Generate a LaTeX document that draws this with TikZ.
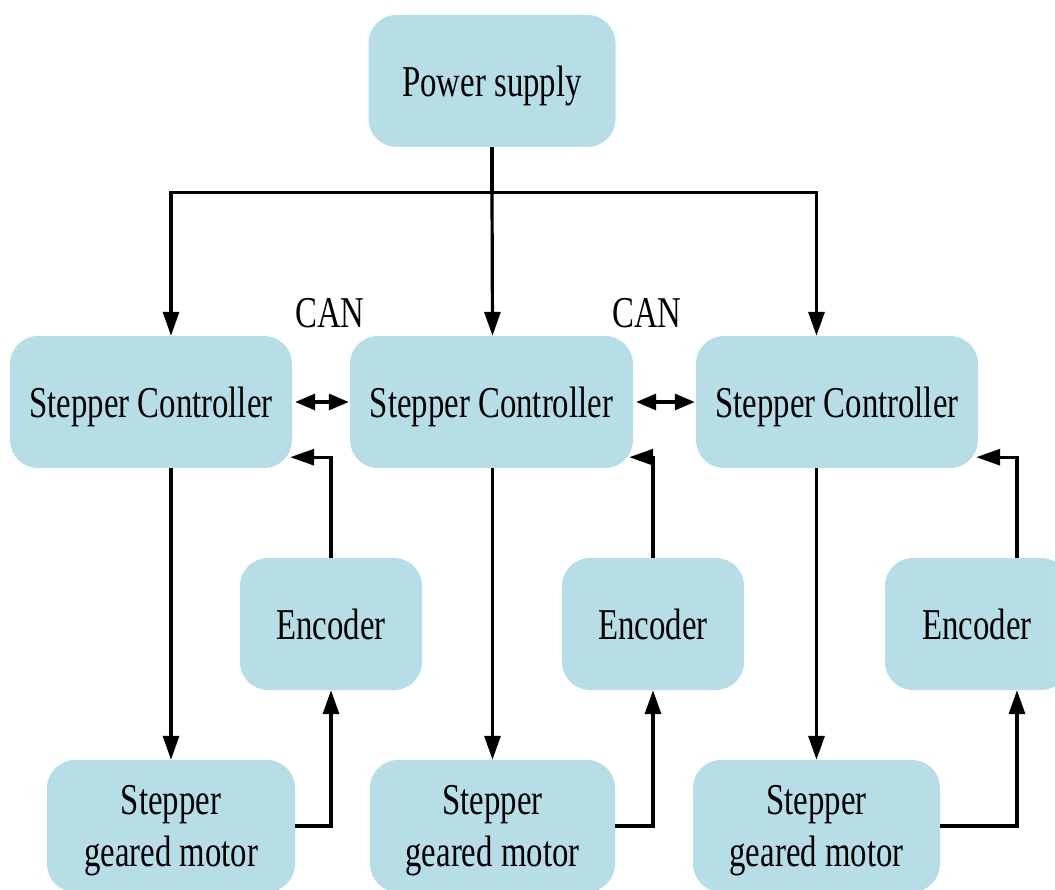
\documentclass[tikz,border=0pt]{standalone}
\usepackage{fontspec}
\setmainfont{Liberation Serif}[FakeStretch=0.745]
\usetikzlibrary{arrows.meta,calc}
\definecolor{boxfill}{HTML}{B7DDE7}
\tikzset{
  blk/.style={fill=boxfill, draw=none, rounded corners=28pt, inner sep=0pt,
    align=center, text depth=0pt, font=\fontsize{44}{52}\selectfont},
  arr/.style={line width=3.2pt, -{Triangle[length=24pt,width=16pt]}},
  dbl/.style={line width=3.2pt, {Triangle[length=20pt,width=16pt]}-{Triangle[length=20pt,width=16pt]}, shorten <=3pt, shorten >=1pt},
  lbl/.style={font=\fontsize{44}{52}\selectfont, inner sep=0pt}
}
\begin{document}
\begin{tikzpicture}[x=1pt,y=-1pt]
\useasboundingbox (0,0) rectangle (1055,890);
\clip (0,0) rectangle (1055,890);
% nodes
\node[blk, minimum width=247pt, minimum height=132pt] (ps) at (492,81) {Power supply};
\node[blk, minimum width=282pt, minimum height=132pt] (c1) at (151,402) {Stepper Controller};
\node[blk, minimum width=283pt, minimum height=132pt] (c2) at (491.5,402) {Stepper Controller};
\node[blk, minimum width=282pt, minimum height=132pt] (c3) at (837,402) {Stepper Controller};
\node[blk, minimum width=182pt, minimum height=132pt] (e1) at (331,624) {Encoder};
\node[blk, minimum width=182pt, minimum height=132pt] (e2) at (653,624) {Encoder};
\node[blk, minimum width=184pt, minimum height=132pt] (e3) at (977,624) {Encoder};
\node[blk, minimum width=248pt, minimum height=132pt] (m1) at (171,826) {Stepper\\geared motor};
\node[blk, minimum width=245pt, minimum height=132pt] (m2) at (492.5,826) {Stepper\\geared motor};
\node[blk, minimum width=247pt, minimum height=132pt] (m3) at (816.5,826) {Stepper\\geared motor};
\node[lbl] (can1) at (330,313) {CAN};
\node[lbl] (can2) at (647,313) {CAN};
% power bus
\coordinate (bus) at ($(ps.south)+(0,45)$);
\draw[line width=3.6pt] (ps.south) -- (bus);
\draw[arr] (bus) -| (m1.north |- c1.north);
\draw[arr] (bus) -- (m2.north |- c2.north);
\draw[arr] (bus) -| (m3.north |- c3.north);
% CAN links
\draw[dbl] (c1.east) -- (c2.west);
\draw[dbl] (c2.east) -- (c3.west);
% controller to motor
\draw[arr] (m1.north |- c1.south) -- (m1.north);
\draw[arr] (m2.north |- c2.south) -- (m2.north);
\draw[arr] (m3.north |- c3.south) -- (m3.north);
% motor to encoder
\draw[arr] (m1.east) -| (e1.south);
\draw[arr] (m2.east) -| (e2.south);
\draw[arr] (m3.east) -| ($(e3.south)+(40,0)$);
% encoder to controller
\draw[arr] (e1.north) |- ($(c1.south east)+(-2,-11)$);
\draw[arr] (e2.north) |- ($(c2.south east)+(-4,-11)$);
\draw[arr] ($(e3.north)+(40,0)$) |- ($(c3.south east)+(-2,-11)$);
\end{tikzpicture}
\end{document}
